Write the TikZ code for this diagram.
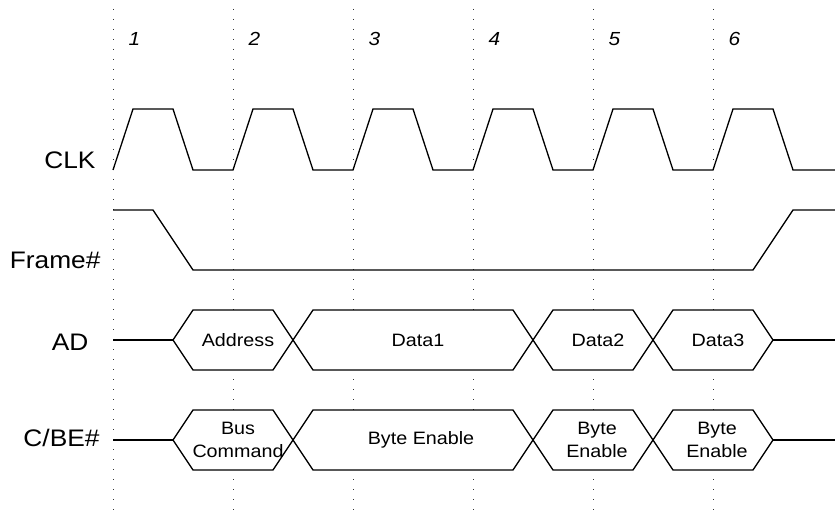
\documentclass[tikz,border=0pt]{standalone}
\usepackage{fontspec}
\setmainfont{Liberation Sans}[FakeStretch=1.1]

\tikzset{
  sig/.style={line width=1.3bp, line join=miter},
  gridline/.style={line width=1bp, dash pattern=on 1bp off 9bp, black!80},
  busbox/.style={sig, fill=white},
  signame/.style={anchor=base east, font=\fontsize{24}{28}\selectfont},
  cyclenum/.style={anchor=base west, font=\fontsize{19}{22}\selectfont\itshape},
  busval/.style={font=\fontsize{18}{23}\selectfont, align=center, inner sep=0pt},
}

% hexagon from #1 to #2 around row #3
\def\hexbox#1#2#3{%
  \filldraw[busbox] (#1,#3) -- (#1+20,#3-30) -- (#2-20,#3-30) -- (#2,#3)
    -- (#2-20,#3+30) -- (#1+20,#3+30) -- cycle;}

\begin{document}
\begin{tikzpicture}[x=1bp, y=-1bp]
\useasboundingbox (0,0) rectangle (835,519);

\def\xstart{113};
\def\period{120};
\def\yclk{170};
\def\yad{340};
\def\ycbe{440};

% cycle markers
\foreach \i in {0,...,5}
  \draw[gridline] ({\xstart+\i*\period}, 9) -- ({\xstart+\i*\period}, 515);
\foreach \i in {1,...,6}
  \node[cyclenum] (n\i) at ({\xstart+(\i-1)*\period+12}, 46) {\i};

% signal names
\node[signame] (clk) at (99, 169) {CLK};
\node[signame] (frame) at (104, 269) {Frame\#};
\node[signame] (ad) at (92, 350) {AD};
\node[signame] (cbe) at (103, 446) {C/BE\#};

% clock
\draw[sig] (\xstart,\yclk) \foreach \i in {0,...,5} {
    -- ++(20,-61) -- ++(40,0) -- ++(20,61) -- ++(40,0) } -- (835,\yclk);

% frame
\draw[sig] (\xstart,210) -- (153,210) -- (193,270) -- (753,270) -- (793,210) -- (835,210);

% AD bus
\draw[sig] (\xstart,\yad) -- (173,\yad);
\draw[sig] (773,\yad) -- (835,\yad);
\hexbox{173}{293}{\yad}
\hexbox{293}{533}{\yad}
\hexbox{533}{653}{\yad}
\hexbox{653}{773}{\yad}
\node[busval] (addr) at (238,\yad) {Address};
\node[busval] (d1) at (418,\yad) {Data1};
\node[busval] (d2) at (598,\yad) {Data2};
\node[busval] (d3) at (718,\yad) {Data3};

% C/BE bus
\draw[sig] (\xstart,\ycbe) -- (173,\ycbe);
\draw[sig] (773,\ycbe) -- (835,\ycbe);
\hexbox{173}{293}{\ycbe}
\hexbox{293}{533}{\ycbe}
\hexbox{533}{653}{\ycbe}
\hexbox{653}{773}{\ycbe}
\node[busval] (cmd) at (238,\ycbe) {Bus\\Command};
\node[busval] (be1) at (421,\ycbe) {Byte Enable};
\node[busval] (be2) at (597,\ycbe) {Byte\\Enable};
\node[busval] (be3) at (717,\ycbe) {Byte\\Enable};

\end{tikzpicture}
\end{document}
